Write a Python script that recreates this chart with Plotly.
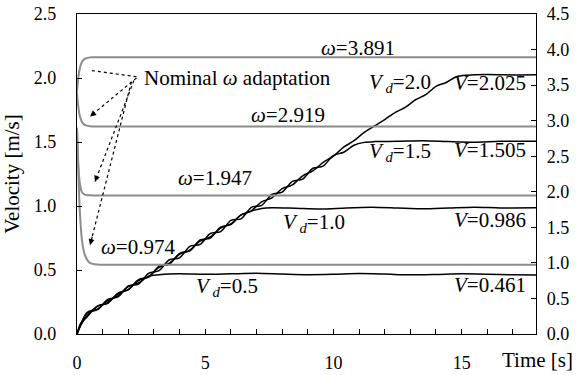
import plotly.graph_objects as go

# ---------------- data ----------------
x_tick_vals = list(range(0, 18))
x_tick_text = ["0", "", "", "", "", "5", "", "", "", "", "10", "", "", "", "", "15", "", ""]

t_v05 = [0, 0.15, 0.4, 0.8, 1.2, 1.6, 2.0, 2.4, 2.8, 3.2, 3.6, 4.0, 5, 6, 7, 8, 9, 10, 11, 12, 13, 14, 15, 16, 17, 17.9]
v_v05 = [0, 0.075, 0.17, 0.195, 0.26, 0.30, 0.37, 0.40, 0.452, 0.462, 0.468, 0.47, 0.466, 0.47, 0.474, 0.468,
         0.463, 0.466, 0.472, 0.468, 0.462, 0.465, 0.47, 0.467, 0.462, 0.461]

t_v10 = [0, 0.15, 0.4, 0.8, 1.2, 1.6, 2.0, 2.4, 2.8, 3.2, 3.6, 4.0, 4.4, 4.8, 5.2, 5.6, 6.0, 6.4, 6.8, 7.2, 7.6,
         8.5, 9.5, 10.5, 11.5, 12.5, 13.5, 14.5, 15.5, 16.5, 17.9]
v_v10 = [0, 0.085, 0.135, 0.22, 0.24, 0.32, 0.345, 0.425, 0.445, 0.53, 0.545, 0.63, 0.65, 0.735, 0.75, 0.835,
         0.855, 0.93, 0.96, 0.98, 0.986, 0.982, 0.976, 0.985, 0.99, 0.984, 0.978, 0.984, 0.99, 0.985, 0.986]

t_v15 = [0, 0.15, 0.4, 0.8, 1.2, 1.6, 2.0, 2.4, 2.8, 3.2, 3.6, 4.0, 4.4, 4.8, 5.2, 5.6, 6.0, 6.4, 6.8, 7.2, 7.6,
         8.0, 8.4, 8.8, 9.2, 9.6, 10.0, 10.4, 10.8, 11.2, 11.6, 12.5, 13.5, 14.5, 15.5, 16.5, 17.9]
v_v15 = [0, 0.08, 0.165, 0.19, 0.27, 0.29, 0.375, 0.39, 0.475, 0.495, 0.58, 0.595, 0.685, 0.70, 0.785, 0.80,
         0.888, 0.90, 0.99, 1.005, 1.09, 1.108, 1.192, 1.21, 1.295, 1.312, 1.395, 1.42, 1.475, 1.497, 1.503,
         1.505, 1.51, 1.503, 1.498, 1.505, 1.505]

t_v20 = [0, 0.15, 0.4, 0.8, 1.2, 1.6, 2.0, 2.4, 2.8, 3.2, 3.6, 4.0, 4.4, 4.8, 5.2, 5.6, 6.0, 6.4, 6.8, 7.2, 7.6,
         8.0, 8.4, 8.8, 9.2, 9.6, 10.0, 10.4, 10.8, 11.2, 11.6, 12.0, 12.4, 12.8, 13.2, 13.6, 14.0, 14.4, 14.8,
         15.2, 16.0, 17.0, 17.9]
v_v20 = [0, 0.07, 0.145, 0.215, 0.245, 0.315, 0.348, 0.418, 0.45, 0.52, 0.553, 0.623, 0.655, 0.725, 0.758, 0.828,
         0.86, 0.93, 0.962, 1.033, 1.063, 1.135, 1.165, 1.235, 1.275, 1.34, 1.39, 1.46, 1.51, 1.575, 1.625, 1.675,
         1.73, 1.77, 1.83, 1.87, 1.935, 1.965, 2.01, 2.022, 2.028, 2.024, 2.025]

# nominal omega adaptation (right axis)
t_w = [0, 0.05, 0.1, 0.15, 0.2, 0.3, 0.4, 0.5, 0.7, 1.0, 17.9]
w_0974 = [2.9, 2.3, 1.8, 1.5, 1.3, 1.12, 1.04, 1.0, 0.98, 0.974, 0.974]
w_1947 = [2.9, 2.4, 2.15, 2.04, 1.99, 1.96, 1.952, 1.95, 1.948, 1.947, 1.947]
w_2919 = [3.4, 3.2, 3.08, 3.02, 2.98, 2.94, 2.93, 2.92, 2.919, 2.919, 2.919]
w_3891 = [3.4, 3.6, 3.72, 3.79, 3.83, 3.87, 3.88, 3.89, 3.891, 3.891, 3.891]

FONT = "Times New Roman, Liberation Serif, serif"
BLACK = "#000000"
GRAY = "#8c8c8c"
ASIZE = 21

fig = go.Figure()

for tt, vv in [(t_v05, v_v05), (t_v10, v_v10), (t_v15, v_v15), (t_v20, v_v20)]:
    fig.add_trace(go.Scatter(x=tt, y=vv, mode="lines", line=dict(color=BLACK, width=1.5, shape="spline", smoothing=0.8),
                             showlegend=False, hoverinfo="skip"))

for ww in [w_0974, w_1947, w_2919, w_3891]:
    fig.add_trace(go.Scatter(x=t_w, y=ww, yaxis="y2", mode="lines",
                             line=dict(color=GRAY, width=2, shape="spline", smoothing=1.0),
                             showlegend=False, hoverinfo="skip"))

ann = []
def txt(x, y, s, xanchor="center"):
    ann.append(dict(x=x, y=y, xref="x", yref="y", text=s, showarrow=False, xanchor=xanchor, yanchor="middle",
                    font=dict(family=FONT, size=ASIZE, color=BLACK)))

txt(10.94, 2.234, "<i>ω</i>=3.891")
txt(8.22, 1.71, "<i>ω</i>=2.919")
txt(5.39, 1.22, "<i>ω</i>=1.947")
txt(2.36, 0.682, "<i>ω</i>=0.974")
txt(2.55, 2.0, "Nominal <i>ω</i> adaptation", "left")
txt(12.6, 1.96, "<i>V</i><sub> <i>d</i></sub>=2.0")
txt(12.6, 1.42, "<i>V</i><sub> <i>d</i></sub>=1.5")
txt(9.23, 0.87, "<i>V</i><sub> <i>d</i></sub>=1.0")
txt(5.84, 0.365, "<i>V</i><sub> <i>d</i></sub>=0.5")
txt(17.58, 1.96, "<i>V</i>=2.025", "right")
txt(17.58, 1.4375, "<i>V</i>=1.505", "right")
txt(17.58, 0.89, "<i>V</i>=0.986", "right")
txt(17.58, 0.383, "<i>V</i>=0.461", "right")

# dotted arrows: (origin t, origin v, tip t, tip v)
arrows = [(2.32, 2.01, 0.51, 2.06), (2.32, 2.0, 0.51, 1.70), (2.22, 1.98, 0.70, 1.19), (2.12, 1.97, 0.51, 0.695)]
shapes = []
for (x0, y0, x1, y1) in arrows:
    shapes.append(dict(type="line", xref="x", yref="y", x0=x0, y0=y0, x1=x1, y1=y1,
                       line=dict(color=BLACK, width=1.2, dash="dot")))
    ann.append(dict(x=x1, y=y1, xref="x", yref="y", axref="x", ayref="y",
                    ax=x1 + (x0 - x1) * 0.06, ay=y1 + (y0 - y1) * 0.06, text="", showarrow=True,
                    arrowhead=2, arrowsize=1.0, arrowwidth=1.2, arrowcolor=BLACK))

ann.append(dict(x=1.0857, y=-0.081, xref="paper", yref="paper", text="Time [s]", showarrow=False,
                xanchor="right", yanchor="middle", font=dict(family=FONT, size=ASIZE, color=BLACK)))

fig.update_layout(
    width=577, height=375,
    margin=dict(l=77, r=41, t=14, b=41, autoexpand=False),
    paper_bgcolor="white", plot_bgcolor="white",
    font=dict(family=FONT, size=18, color=BLACK),
    showlegend=False,
    annotations=ann, shapes=shapes,
    xaxis=dict(range=[0, 17.9], tickvals=x_tick_vals, ticktext=x_tick_text, ticks="inside", ticklen=5,
               tickcolor=BLACK, showline=True, linecolor=BLACK, linewidth=1.3, mirror=True,
               showgrid=False, zeroline=False, ticklabelstandoff=12, automargin=False),
    yaxis=dict(range=[0, 2.5], dtick=0.5, tickformat=".1f", ticks="inside", ticklen=5, tickcolor=BLACK,
               showline=True, linecolor=BLACK, linewidth=1.3, showgrid=False, zeroline=False,
               title=dict(text="Velocity [m/s]", font=dict(family=FONT, size=ASIZE), standoff=8),
               ticklabelstandoff=16, automargin=False),
    yaxis2=dict(range=[0, 4.5], dtick=0.5, tickformat=".1f", overlaying="y", side="right", ticks="inside",
                ticklen=5, tickcolor=BLACK, showline=True, linecolor=BLACK, linewidth=1.3, showgrid=False,
                zeroline=False, ticklabelstandoff=6, automargin=False),
)

fig.write_html("out.html", config={"displayModeBar": False},
               post_script="document.body.style.margin='0';document.body.style.overflow='hidden';")
